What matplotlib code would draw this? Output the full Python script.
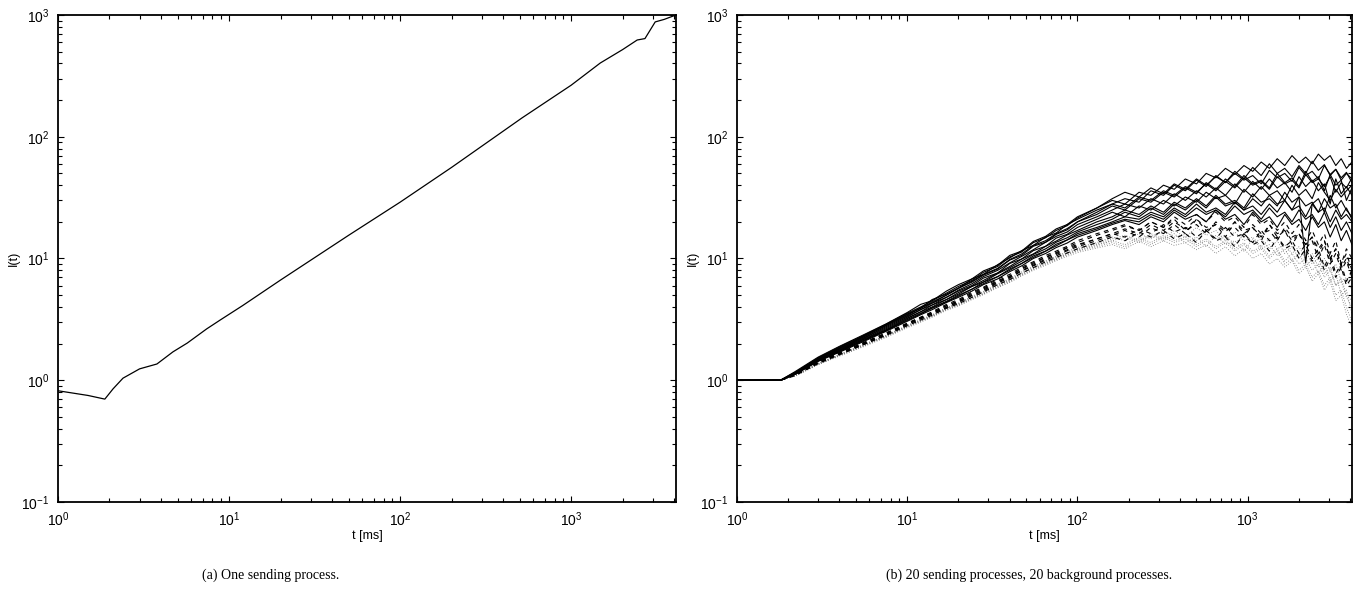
import matplotlib
matplotlib.use("Agg")
import matplotlib.pyplot as plt
from matplotlib.ticker import LogLocator, LogFormatterSciNotation, NullFormatter

plt.rcParams['font.family'] = ['Liberation Sans', 'DejaVu Sans']
plt.rcParams['mathtext.fontset'] = 'custom'
plt.rcParams['mathtext.rm'] = 'Liberation Sans'
plt.rcParams['mathtext.it'] = 'Liberation Sans:italic'
plt.rcParams['mathtext.bf'] = 'Liberation Sans:bold'

# ---------------- Panel (a): one sending process ----------------
t_a = [1, 1.5, 1.88, 2.1, 2.4, 3.0, 3.79, 4.7, 5.7, 7.4, 8.9, 12, 20, 50, 100,
       200, 517, 1000, 1479, 2000, 2432, 2700, 3099, 3500, 4096]
I_a = [0.82, 0.75, 0.70, 0.85, 1.04, 1.24, 1.36, 1.71, 2.02, 2.64, 3.13, 4.1,
       6.65, 15.5, 29, 56, 143, 265, 403, 520, 623, 640, 877, 920, 1000]

# ---------------- Panel (b): 20 sending, 20 background ----------------
t_flat = [1, 1.8]
I_flat = [1.0, 1.0]
t_grid = [2.2, 3, 4, 5.5, 7.5,
          10, 12, 14, 17, 20, 24, 28, 34, 40, 47, 55, 65, 75, 87, 100,
          130, 160, 190, 230, 270, 320, 370, 430, 500, 570, 650, 740, 840, 950,
          1070, 1200, 1340, 1490, 1650, 1820, 2000, 2190, 2390, 2600, 2820,
          3050, 3290, 3540, 3800, 4096]

sending = [
    [1.18,1.55,1.9,2.35,2.9, 3.6,4.2,4.5,5.4,6.1,6.8,7.9,8.8,10.6,11.5,13.8,15.2,17.5,19,22,
     26,30,28,35,33,40,37,45,41,50,46,55,49,58,52,62,55,66,58,70,61,68,60,72,64,70,58,66,55,62],
    [1.16,1.52,1.85,2.3,2.85, 3.5,3.9,4.6,5.1,5.7,6.8,7.4,8.9,10.1,11.6,12.8,15,16.2,19,21,
     25,28,31,29,36,33,40,36,44,39,48,42,52,45,56,48,60,50,55,47,58,50,63,53,59,48,54,44,50,45],
    [1.15,1.5,1.82,2.25,2.8, 3.4,3.95,4.3,5.0,5.7,6.4,7.3,8.2,9.7,10.6,12.6,13.6,15.8,17.2,20,
     23,27,25,31,29,35,32,38,34,42,37,45,39,48,41,44,38,50,42,46,39,52,43,47,36,49,40,44,30,38],
    [1.15,1.5,1.8,2.22,2.75, 3.35,3.8,4.3,4.8,5.5,6.2,7.1,8.0,9.2,10.4,11.8,13.6,15.2,16.5,19,
     22,25,28,26,31,28,34,30,36,32,38,33,41,35,43,37,45,38,42,35,47,39,44,36,41,28,45,34,39,33],
    [1.14,1.48,1.78,2.2,2.7, 3.3,3.8,4.15,4.8,5.4,6.0,6.9,7.6,9.1,9.9,11.6,12.6,14.7,15.8,18,
     21,24,22,27,25,30,27,32,29,35,31,33,28,37,32,39,33,36,30,40,33,37,31,42,35,30,37,32,36,40],
    [1.14,1.47,1.76,2.17,2.65, 3.25,3.65,4.15,4.6,5.25,5.9,6.6,7.6,8.6,9.9,10.9,12.6,13.9,15.6,17,
     20,22,25,23,27,24,29,26,31,27,33,28,30,26,34,29,31,27,35,29,32,9.2,28,31,24,33,26,30,25,22],
    [1.13,1.46,1.75,2.15,2.6, 3.2,3.65,4.0,4.6,5.1,5.9,6.4,7.5,8.4,9.5,10.8,12.0,13.6,14.8,16.5,
     19,21,24,22,26,23,28,25,30,26,32,27,29,25,31,27,33,28,30,25,32,27,29,24,31,26,28,22,26,21],
    [1.13,1.45,1.73,2.12,2.58, 3.15,3.55,3.95,4.45,5.0,5.6,6.4,7.1,8.2,9.1,10.5,11.5,13.1,14.2,16,
     18,20,22,21,24,22,26,23,28,24,26,23,29,25,27,23,28,24,30,25,27,22,28,24,26,20,25,21,23,20],
    [1.12,1.44,1.72,2.1,2.55, 3.1,3.5,3.9,4.4,4.9,5.6,6.2,7.1,8.0,9.1,10.2,11.5,12.7,14.2,15.5,
     17.5,19.5,21,20,23,21,25,22,26,23,25,22,27,23,25,21,26,22,24,20,25,21,23,19,24,18,22,17,20,16],
    [1.12,1.43,1.7,2.07,2.52, 3.05,3.45,3.8,4.35,4.8,5.4,6.1,6.8,7.8,8.7,10.0,11.0,12.3,13.4,15,
     17,19,20.5,19,22,20,24,21,23,20,25,21,23,19,24,20,22,18,23,19,21,17,22,18,20,15,19,14,17,13],
    [1.16,1.53,1.88,2.32,2.88, 3.55,4.0,4.5,5.2,5.9,6.6,7.7,8.6,10.3,11.3,13.5,14.8,17,18.6,21.5,
     26,31,35,32,38,34,41,37,45,40,47,42,50,44,48,41,53,46,50,43,56,48,52,45,58,49,54,46,51,42],
    [1.15,1.51,1.84,2.27,2.82, 3.45,3.9,4.4,5.0,5.7,6.5,7.4,8.3,9.8,10.9,12.8,14,16,17.6,20,
     24,28,26,32,30,36,33,39,35,41,36,43,38,46,40,43,37,47,41,44,38,49,42,45,39,47,35,42,38,46],
]

background_dashed = [
    [1.12,1.42,1.68,2.03,2.45, 2.95,3.3,3.65,4.2,4.6,5.3,5.8,6.8,7.4,8.5,9.4,10.6,11.5,12.6,14,
     16,17.5,19,17,20,18,21,17,19,16,20,17,18,15,19,16,17,14,18,15,16,13,15,11,14,10,12,9,11,8],
    [1.11,1.4,1.66,2.0,2.4, 2.9,3.25,3.55,4.1,4.45,5.1,5.6,6.5,7.1,8.2,9.0,10.2,11,12.2,13,
     14.5,16,15,17.5,16,19,16.5,18,15,17,14.5,18,15,16,13.5,17,14,15,12.5,14,11,13,10,12,8.5,11,7.5,9,6.5,8],
    [1.1,1.38,1.64,1.97,2.36, 2.85,3.2,3.5,3.95,4.35,4.95,5.4,6.3,6.9,7.9,8.7,9.7,10.5,11.6,12.5,
     14,15.5,17,15,18,16,19,16,21,17,19,15,20,16,18,14,19,15,17,13,16,12,14,10,13,9,11,8,9.5,7],
    [1.1,1.37,1.62,1.95,2.33, 2.8,3.12,3.42,3.9,4.25,4.8,5.3,6.1,6.7,7.6,8.4,9.4,10.2,11.1,12,
     13.5,15,14,16.5,15,17,14.5,16,13.5,17,14,15,12.5,16,13,14,11.5,15,12,13,10,12,9.5,11,8,10,7,8.5,6,7],
    [1.11,1.41,1.67,2.02,2.43, 2.92,3.28,3.6,4.1,4.5,5.2,5.7,6.6,7.2,8.3,9.2,10.3,11.2,12.3,13.5,
     15.5,17,18.5,17,20,18,22,19,23,20,24,20,22,18,23,19,21,17,20,16,19,14,17,13,16,11,14,9,12,10],
    [1.1,1.39,1.65,1.98,2.38, 2.87,3.2,3.52,4.0,4.4,5.0,5.5,6.4,7.0,8.0,8.8,9.9,10.8,11.8,12.8,
     14.5,16,17.5,16,19,17,20,17.5,21,18,19,16.5,20,17,18,15,19,16,17,14,16,13,15,12,14,10,12,8.5,10,7.5],
]

background_dotted = [
    [1.1,1.38,1.63,1.96,2.34, 2.82,3.15,3.45,3.95,4.3,4.9,5.35,6.2,6.8,7.8,8.6,9.6,10.4,11.4,12.3,
     13.5,15,14,16,14.5,17,15,16,14,17,14.5,15.5,13,16,13.5,14.5,12,14,11,12.5,10,11.5,9,10,7.5,8.5,6,7,5,4.5],
    [1.09,1.36,1.6,1.93,2.3, 2.77,3.1,3.38,3.85,4.2,4.75,5.2,6.0,6.6,7.5,8.3,9.2,10,10.9,11.8,
     13,14,15,13.5,15.5,14,16,13.5,15,12.5,15.5,13,14,11.5,14.5,12,13,10.5,12,9.5,11,8.5,10,7.5,9,6.5,7.5,5,5.5,3.5],
    [1.09,1.35,1.59,1.9,2.27, 2.73,3.05,3.33,3.8,4.13,4.65,5.1,5.85,6.45,7.3,8.1,9.0,9.8,10.7,11.5,
     12.5,13.5,12.5,14.5,13,15,13.5,14.5,12.5,14,12,13.5,11.5,13,11,12,10,11.5,9,10,8,9,7,8,6,7,5,5.5,4,3],
    [1.1,1.37,1.62,1.95,2.32, 2.8,3.12,3.42,3.9,4.25,4.8,5.28,6.1,6.7,7.6,8.5,9.4,10.2,11.1,12,
     13.2,14.5,15.5,14,16,14.5,17,15,18,15.5,17,14,16.5,14,15,12.5,14.5,12,13,11,12.5,10,11,8.5,10,8,9,6.5,7,5.5],
    [1.08,1.34,1.58,1.88,2.25, 2.7,3.0,3.3,3.75,4.08,4.6,5.05,5.75,6.35,7.2,8.0,8.8,9.6,10.4,11.2,
     12.2,13,12,13.8,12.5,14,12.8,13.5,11.8,13,11,12.5,10.5,12,10,11,9,10,8.5,9.5,7.5,8.5,6.5,7.5,5.5,6.5,4.5,5,3.5,2.7],
    [1.09,1.36,1.61,1.92,2.29, 2.75,3.06,3.36,3.82,4.17,4.7,5.15,5.9,6.55,7.4,8.2,9.1,9.9,10.8,11.6,
     12.8,14,13,15,13.5,15.5,14,15,13,14.5,12.5,14,12,13.5,11.5,12.5,10.5,12,9.5,11,9,10,8,9,7,8,6,6.5,4.8,4],
]

x_limits = (1, 4096)
y_limits = (0.1, 1000)
x_label = "t [ms]"
y_label = "I(t)"
caption_a = "(a) One sending process."
caption_b = "(b) 20 sending processes, 20 background processes."

fig = plt.figure(figsize=(13.6, 6.14), dpi=100)
ax_a = fig.add_axes([0.0426, 0.1824, 0.4544, 0.7932])
ax_b = fig.add_axes([0.5419, 0.1824, 0.4522, 0.7932])


def style(ax):
    ax.set_xscale('log')
    ax.set_yscale('log')
    ax.set_xlim(*x_limits)
    ax.set_ylim(*y_limits)
    ax.xaxis.set_major_locator(LogLocator(base=10, numticks=10))
    ax.yaxis.set_major_locator(LogLocator(base=10, numticks=10))
    ax.xaxis.set_minor_locator(LogLocator(base=10, subs=range(2, 10), numticks=20))
    ax.yaxis.set_minor_locator(LogLocator(base=10, subs=range(2, 10), numticks=20))
    ax.xaxis.set_major_formatter(LogFormatterSciNotation())
    ax.yaxis.set_major_formatter(LogFormatterSciNotation())
    ax.xaxis.set_minor_formatter(NullFormatter())
    ax.yaxis.set_minor_formatter(NullFormatter())
    ax.tick_params(which='both', direction='in', top=True, right=True,
                   labelsize=10, width=0.8, colors='black')
    ax.tick_params(which='major', length=4.5, pad=6)
    ax.tick_params(which='minor', length=2.8)
    for s in ax.spines.values():
        s.set_linewidth(1.3)
    ax.set_xlabel(x_label, fontsize=9, labelpad=1)
    ax.set_ylabel(y_label, fontsize=9, labelpad=1)


style(ax_a)
style(ax_b)

ax_a.plot(t_a, I_a, color='black', lw=0.9)

for vals in background_dotted:
    ax_b.plot(t_flat + t_grid, I_flat + vals, color='0.45', lw=0.6,
              linestyle=(0, (1, 2)))
for vals in background_dashed:
    ax_b.plot(t_flat + t_grid, I_flat + vals, color='black', lw=0.8,
              linestyle=(0, (4, 4)))
for vals in sending:
    ax_b.plot(t_flat + t_grid, I_flat + vals, color='black', lw=0.8)

fig.text(0.199, 0.0635, caption_a, ha='center', va='center', fontsize=10,
         family=['Liberation Serif', 'DejaVu Serif'])
fig.text(0.7566, 0.0635, caption_b, ha='center', va='center', fontsize=10,
         family=['Liberation Serif', 'DejaVu Serif'])

fig.savefig("out.png", dpi=100)
